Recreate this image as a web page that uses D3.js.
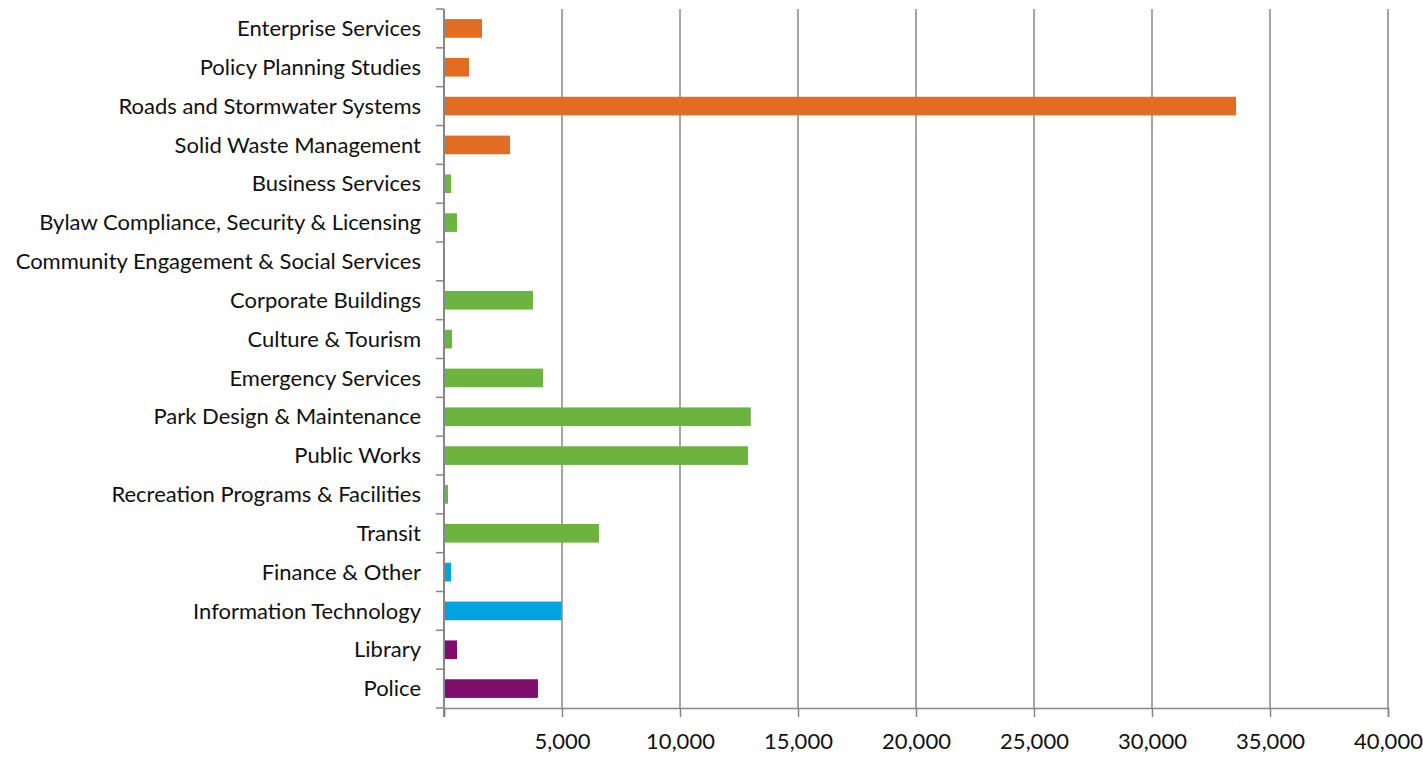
<!DOCTYPE html>
<html>
<head>
<meta charset="utf-8">
<script src="https://cdn.jsdelivr.net/npm/d3@7"></script>
<style>
  html, body { margin: 0; padding: 0; background: #fff; }
  svg text { font-family: Lato, "Open Sans", sans-serif; fill: #111; }
</style>
</head>
<body>
<svg id="chart" width="1423" height="757"></svg>
<script>
// Service areas, top to bottom
const categories = [
  "Enterprise Services",
  "Policy Planning Studies",
  "Roads and Stormwater Systems",
  "Solid Waste Management",
  "Business Services",
  "Bylaw Compliance, Security & Licensing",
  "Community Engagement & Social Services",
  "Corporate Buildings",
  "Culture & Tourism",
  "Emergency Services",
  "Park Design & Maintenance",
  "Public Works",
  "Recreation Programs & Facilities",
  "Transit",
  "Finance & Other",
  "Information Technology",
  "Library",
  "Police"
];

// Amount per service area
const values = [1610, 1060, 33560, 2800, 300, 550, 0, 3770, 340, 4200, 13000, 12880, 170, 6570, 300, 4980, 550, 3980];

// Service group of each area
const groups = [
  "infrastructure", "infrastructure", "infrastructure", "infrastructure",
  "community", "community", "community", "community", "community", "community",
  "community", "community", "community", "community",
  "corporate", "corporate",
  "boards", "boards"
];

const groupNames = ["infrastructure", "community", "corporate", "boards"];
const groupColors = ["#E06D22", "#6DB33F", "#00A3E0", "#7E0D6C"];

const xTicks = [0, 5000, 10000, 15000, 20000, 25000, 30000, 35000, 40000];

const svg = d3.select("#chart");
const plotLeft = 444, plotRight = 1388, plotTop = 9, plotBottom = 708;

const x = d3.scaleLinear().domain([0, 40000]).range([plotLeft, plotRight]);
const y = d3.scaleBand().domain(categories).range([plotTop, plotBottom]).paddingInner(0.52).paddingOuter(0.26);
const color = d3.scaleOrdinal().domain(groupNames).range(groupColors);

const rows = categories.map((c, i) => ({ name: c, value: values[i], group: groups[i] }));

// vertical gridlines
svg.append("g")
  .selectAll("line")
  .data(xTicks.filter(t => t > 0))
  .join("line")
  .attr("x1", d => x(d)).attr("x2", d => x(d))
  .attr("y1", plotTop).attr("y2", plotBottom)
  .attr("stroke", "#878787").attr("stroke-width", 1.5);

// bars
svg.append("g")
  .selectAll("rect")
  .data(rows)
  .join("rect")
  .attr("x", x(0))
  .attr("y", d => y(d.name))
  .attr("width", d => x(d.value) - x(0))
  .attr("height", y.bandwidth())
  .attr("fill", d => color(d.group));

// x axis
const xAxis = d3.axisBottom(x)
  .tickValues(xTicks)
  .tickSize(9)
  .tickPadding(16)
  .tickFormat(d => d === 0 ? "" : d3.format(",")(d));

const gx = svg.append("g")
  .attr("transform", `translate(0,${plotBottom})`)
  .call(xAxis);
gx.select(".domain").attr("stroke", "#878787").attr("stroke-width", 1.5);
gx.selectAll(".tick line").attr("stroke", "#878787").attr("stroke-width", 1.5);
gx.selectAll(".tick text").attr("font-size", 22).style("font-family", "Lato, sans-serif").attr("fill", "#111");

// y axis: boundary ticks between categories
const step = y.step();
const boundaries = d3.range(categories.length + 1).map(i => plotTop + i * step);
const gy = svg.append("g");
gy.selectAll("line.tk")
  .data(boundaries)
  .join("line")
  .attr("class", "tk")
  .attr("x1", plotLeft - 8).attr("x2", plotLeft)
  .attr("y1", d => d).attr("y2", d => d)
  .attr("stroke", "#878787").attr("stroke-width", 1.5);
gy.append("line")
  .attr("x1", plotLeft).attr("x2", plotLeft)
  .attr("y1", plotTop).attr("y2", plotBottom + 9)
  .attr("stroke", "#878787").attr("stroke-width", 2);

gy.selectAll("text")
  .data(categories)
  .join("text")
  .attr("x", plotLeft - 23)
  .attr("y", d => y(d) + y.bandwidth() / 2)
  .attr("dy", "0.35em")
  .attr("text-anchor", "end")
  .attr("font-size", 22)
  .text(d => d);
</script>
</body>
</html>
